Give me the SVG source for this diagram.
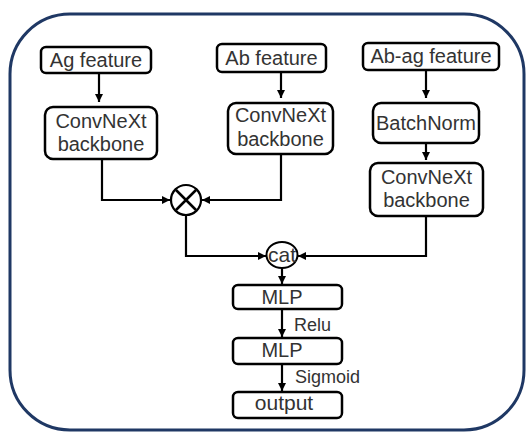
<svg xmlns="http://www.w3.org/2000/svg" width="527" height="432" viewBox="0 0 527 432">
<defs>
<style>
.box{fill:#fff;stroke:#000;stroke-width:2.5}
.t{font-family:"Liberation Sans",Arial,sans-serif;font-size:20px;fill:#333;text-anchor:middle}
.lbl{font-family:"Liberation Sans",Arial,sans-serif;font-size:18px;fill:#333}
.ln{fill:none;stroke:#000;stroke-width:2.2}
</style>
<marker id="ah" viewBox="0 0 10 10" refX="10" refY="5" markerWidth="8" markerHeight="8" markerUnits="userSpaceOnUse" orient="auto">
<path d="M0,0 L10,5 L0,10 z" fill="#000"/>
</marker>
</defs>
<rect x="0" y="0" width="527" height="432" fill="#fff"/>
<rect id="frame" x="10" y="14" width="514" height="416" rx="60" ry="60" fill="none" stroke="#1f3864" stroke-width="3"/>

<g id="connectors">
<path class="ln" d="M99,73 V102" marker-end="url(#ah)"/>
<path class="ln" d="M281,72 V98" marker-end="url(#ah)"/>
<path class="ln" d="M426,70 V98" marker-end="url(#ah)"/>
<path class="ln" d="M426,143 V160" marker-end="url(#ah)"/>
<path class="ln" d="M102,159 V200 H170" marker-end="url(#ah)"/>
<path class="ln" d="M281,154 V200 H202" marker-end="url(#ah)"/>
<path class="ln" d="M186,215 V256 H266" marker-end="url(#ah)"/>
<path class="ln" d="M426,216 V256 H298" marker-end="url(#ah)"/>
<path class="ln" d="M282,268 V284" marker-end="url(#ah)"/>
<path class="ln" d="M282,309 V337" marker-end="url(#ah)"/>
<path class="ln" d="M282,364 V391" marker-end="url(#ah)"/>
<text class="lbl" x="294" y="331">Relu</text>
<text class="lbl" x="295" y="383">Sigmoid</text>
</g>

<g id="ag_feature">
<rect class="box" x="41" y="47" width="110" height="26" rx="5"/>
<text class="t" x="96" y="67">Ag feature</text>
</g>
<g id="ab_feature">
<rect class="box" x="217" y="44" width="109" height="28" rx="5"/>
<text class="t" x="271.5" y="65">Ab feature</text>
</g>
<g id="abag_feature">
<rect class="box" x="363" y="43" width="136" height="27" rx="5"/>
<text class="t" x="431" y="63">Ab-ag feature</text>
</g>
<g id="ag_backbone">
<rect class="box" x="45" y="107" width="112" height="52" rx="8"/>
<text class="t" x="101" y="128">ConvNeXt</text>
<text class="t" x="101" y="151">backbone</text>
</g>
<g id="ab_backbone">
<rect class="box" x="228" y="103" width="105" height="51" rx="8"/>
<text class="t" x="280.5" y="122">ConvNeXt</text>
<text class="t" x="280.5" y="146">backbone</text>
</g>
<g id="batchnorm">
<rect class="box" x="373" y="103" width="106" height="40" rx="8"/>
<text class="t" x="426" y="130">BatchNorm</text>
</g>
<g id="abag_backbone">
<rect class="box" x="370" y="163" width="113" height="53" rx="8"/>
<text class="t" x="426.5" y="184">ConvNeXt</text>
<text class="t" x="426.5" y="207">backbone</text>
</g>
<g id="multiply">
<circle cx="186" cy="200" r="15" fill="#fff" stroke="#000" stroke-width="2.2"/>
<path d="M176,190 L196,210 M196,190 L176,210" stroke="#000" stroke-width="2.5" fill="none"/>
</g>
<g id="cat">
<ellipse cx="282" cy="255" rx="15.5" ry="13" fill="#fff" stroke="#000" stroke-width="2"/>
<text class="t" x="282" y="262" style="font-size:21px">cat</text>
</g>
<g id="mlp1">
<rect class="box" x="233" y="285" width="109" height="24" rx="5"/>
<text class="t" x="282" y="304">MLP</text>
</g>
<g id="mlp2">
<rect class="box" x="233" y="338" width="109" height="26" rx="5"/>
<text class="t" x="282" y="357">MLP</text>
</g>
<g id="output">
<rect class="box" x="233" y="392" width="109" height="26" rx="5"/>
<text class="t" x="284" y="410" style="font-size:21px">output</text>
</g>
</svg>
